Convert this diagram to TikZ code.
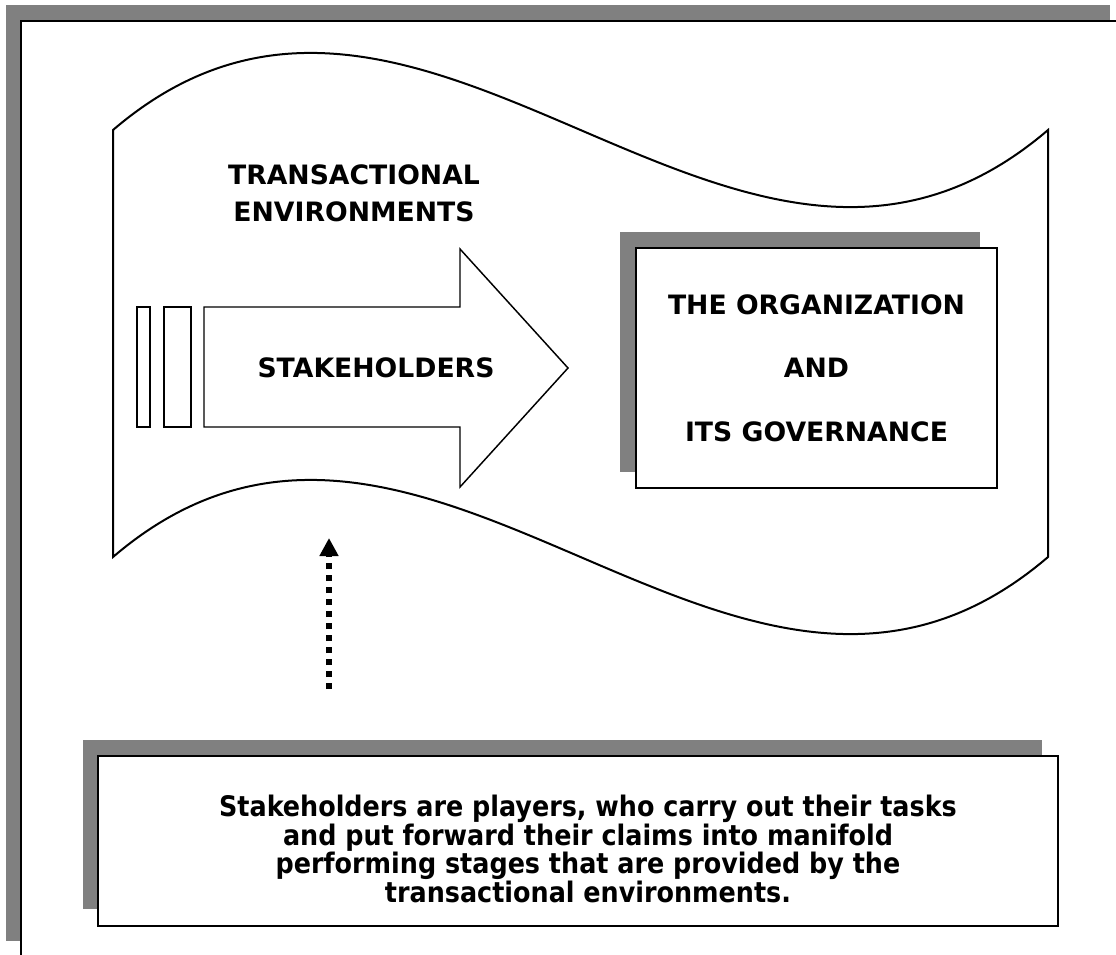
\documentclass[tikz,border=0pt]{standalone}
\usepackage{fontspec}
\setmainfont{DejaVu Sans}
\newfontfamily\condfont{DejaVu Sans Condensed}
\usetikzlibrary{arrows.meta}
\definecolor{shadowgray}{RGB}{128,128,128}
\begin{document}
\begin{tikzpicture}[x=0.75pt,y=-0.75pt,
  outline/.style={draw=black, line width=1.5pt, fill=white},
  thinline/.style={draw=black, line width=1.1pt, fill=white},
  boxstyle/.style={draw=black, line width=1.5pt, fill=white, inner sep=0pt},
  biglabel/.style={font=\bfseries\fontsize{20}{28}\selectfont, align=center, inner sep=0pt},
  note/.style={font=\condfont\bfseries\fontsize{21.2}{19.9}\selectfont, align=center, inner sep=0pt},
  dotarrow/.style={line width=4.5pt, dash pattern=on 4.5pt off 4.5pt, -{Triangle[width=13.5pt,length=13.5pt]}}]
\useasboundingbox (0,0) rectangle (1116,954);
\begin{scope}
\clip (0,0) rectangle (1116,954);
\fill[shadowgray] (6,5) rectangle (1110,941);
\draw[fill=white, line width=1.5pt] (21,21) rectangle (1125,956);
\end{scope}
% wave
\draw[outline] (113,130) .. controls (424.7,-137) and (736.3,397) .. (1048,130)
  -- (1048,557) .. controls (736.3,824) and (424.7,290) .. (113,557) -- cycle;
% block arrow
\draw[thinline] (204,307) -- (460,307) -- (460,249) -- (568,368) -- (460,487) -- (460,427) -- (204,427) -- cycle;
\draw[thinline] (137,307) rectangle (150,427);
\draw[thinline] (164,307) rectangle (191,427);
\node[biglabel] (trans) at (354,193) {TRANSACTIONAL\\ENVIRONMENTS};
\node[biglabel] (stake) at (376,368) {STAKEHOLDERS};
% organization box
\fill[shadowgray] (620,232) rectangle (980,472);
\node[boxstyle, minimum width=270.75pt, minimum height=180pt] (org) at (816.5,368) {};
\node[biglabel, font=\bfseries\fontsize{20}{47.6}\selectfont] (orgtext) at (org.center) {THE ORGANIZATION\\AND\\ITS GOVERNANCE};
% bottom note
\fill[shadowgray] (83,740) rectangle (1042,909);
\node[boxstyle, minimum width=720pt, minimum height=127.5pt] (notebox) at (578,841) {};
\node[note] (notetext) at (588,849) {Stakeholders are players, who carry out their tasks\\and put forward their claims into manifold\\performing stages that are provided by the\\transactional environments.};
% dotted arrow
\coordinate (dotfrom) at (329,689);
\coordinate (dotto) at (329,538);
\draw[dotarrow] (dotfrom) -- (dotto);
\end{tikzpicture}
\end{document}
